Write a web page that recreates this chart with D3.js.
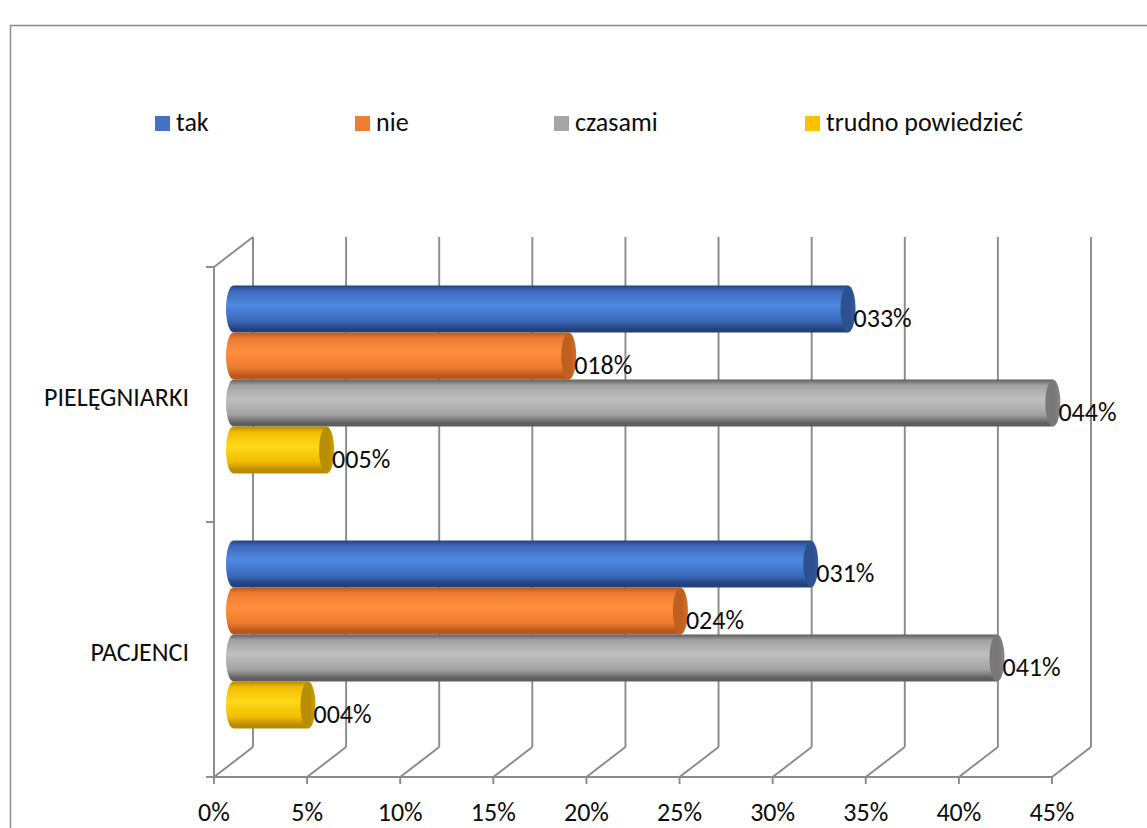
<!DOCTYPE html>
<html lang="pl">
<head>
<meta charset="utf-8">
<script src="https://cdn.jsdelivr.net/npm/d3@7"></script>
<style>
  html, body { margin: 0; padding: 0; background: #fff; }
  svg { display: block; }
  text { font-family: Carlito, Calibri, Lato, "Open Sans", sans-serif; fill: #0d0d0d; }
</style>
</head>
<body>
<svg id="chart" width="1147" height="828"></svg>
<script>
// Categories (rows) and answer series
const categories = ["PIELĘGNIARKI", "PACJENCI"];
const seriesNames = ["tak", "nie", "czasami", "trudno powiedzieć"];
const takValues = [0.33, 0.31];
const nieValues = [0.18, 0.24];
const czasamiValues = [0.44, 0.41];
const trudnoValues = [0.05, 0.04];
const tickValues = [0, 0.05, 0.10, 0.15, 0.20, 0.25, 0.30, 0.35, 0.40, 0.45];

const seriesValues = [takValues, nieValues, czasamiValues, trudnoValues];

// Colour sets per series: legend swatch, body gradient stops, end cap
const palette = [
  { swatch: "#4472c4", edge: "#23427c", mid: "#3d69bb", light: "#5089e2", cap: "#2c5090" },
  { swatch: "#ed7d31", edge: "#b8581c", mid: "#ec7b30", light: "#ff8f3e", cap: "#c0601f" },
  { swatch: "#a5a5a5", edge: "#5e5e5e", mid: "#a2a2a2", light: "#c0c0c0", cap: "#787878" },
  { swatch: "#ffc000", edge: "#b88a00", mid: "#f2bc00", light: "#ffd91a", cap: "#b68e00" }
];

const fontSize = 26;
const svg = d3.select("#chart");

// Outer chart frame
svg.append("rect")
  .attr("x", 10.5).attr("y", 25.5)
  .attr("width", 1200).attr("height", 900)
  .attr("fill", "none").attr("stroke", "#8c8c8c").attr("stroke-width", 1.5);

// Plot geometry (front plane) and depth offset of the 3D box
const x = d3.scaleLinear().domain([0, 0.45]).range([214, 1052]);
const y = d3.scaleBand().domain(categories).range([267, 777]);
const depth = { dx: 39, dy: -30 };
const mid = { dx: depth.dx / 2, dy: depth.dy / 2 };
const sub = d3.scaleBand().domain(seriesNames).range([0, y.bandwidth()])
  .paddingInner(0).paddingOuter(0.71);

const axisColor = "#8a8a8a";
const grid = svg.append("g").attr("stroke", axisColor).attr("stroke-width", 1.9).attr("fill", "none");
const yTop = y.range()[0], yBot = y.range()[1];

// Back wall vertical gridlines and floor diagonals
tickValues.forEach(v => {
  grid.append("line")
    .attr("x1", x(v) + depth.dx).attr("y1", yBot + depth.dy)
    .attr("x2", x(v) + depth.dx).attr("y2", yTop + depth.dy);
  grid.append("line")
    .attr("x1", x(v)).attr("y1", yBot)
    .attr("x2", x(v) + depth.dx).attr("y2", yBot + depth.dy);
  // tick mark under the floor edge
  grid.append("line")
    .attr("x1", x(v)).attr("y1", yBot)
    .attr("x2", x(v)).attr("y2", yBot + 7);
});
// Floor front edge
grid.append("line")
  .attr("x1", x(0)).attr("y1", yBot).attr("x2", x(0.45)).attr("y2", yBot);
// Left wall front edge and top diagonal
grid.append("line")
  .attr("x1", x(0)).attr("y1", yBot).attr("x2", x(0)).attr("y2", yTop);
grid.append("line")
  .attr("x1", x(0)).attr("y1", yTop).attr("x2", x(0) + depth.dx).attr("y2", yTop + depth.dy);
// Category ticks on the left wall
[yTop, ...categories.map(c => y(c) + y.bandwidth())].forEach(t => {
  grid.append("line").attr("x1", x(0) - 8).attr("y1", t).attr("x2", x(0)).attr("y2", t);
});

// Cylinder gradients
const defs = svg.append("defs");
palette.forEach((p, i) => {
  const g = defs.append("linearGradient").attr("id", "cyl" + i)
    .attr("x1", 0).attr("y1", 0).attr("x2", 0).attr("y2", 1);
  [[0, p.edge], [0.12, p.mid], [0.42, p.light], [0.75, p.mid], [0.93, p.edge], [1, p.edge]]
    .forEach(([o, c]) => g.append("stop").attr("offset", o).attr("stop-color", c));
  const cg = defs.append("linearGradient").attr("id", "cap" + i)
    .attr("x1", 0).attr("y1", 0).attr("x2", 1).attr("y2", 0);
  [[0, p.cap], [0.6, p.cap], [1, d3.color(p.cap).brighter(0.35)]]
    .forEach(([o, c]) => cg.append("stop").attr("offset", o).attr("stop-color", c));
});

// Cylindrical bars
const rx = 7.5;
const fmtLabel = v => String(Math.round(v * 100)).padStart(3, "0") + "%";
const bars = svg.append("g");
const labels = svg.append("g").attr("font-size", fontSize);

categories.forEach((cat, ci) => {
  seriesNames.forEach((s, si) => {
    const v = seriesValues[si][ci];
    const top = y(cat) + sub(s) + mid.dy;
    const h = sub.bandwidth();
    const ry = h / 2;
    const x0 = x(0) + mid.dx;
    const x1 = x(v) + mid.dx;
    const body = `M${x0},${top} L${x1},${top} L${x1},${top + h} L${x0},${top + h} ` +
      `A${rx},${ry} 0 0 1 ${x0},${top} Z`;
    bars.append("path").attr("d", body).attr("fill", `url(#cyl${si})`);
    bars.append("ellipse")
      .attr("cx", x1).attr("cy", top + ry).attr("rx", rx).attr("ry", ry)
      .attr("fill", `url(#cap${si})`);
    labels.append("text")
      .attr("x", x1 + rx - 2)
      .attr("y", top + ry + 9)
      .attr("dominant-baseline", "central")
      .text(fmtLabel(v));
  });
});

// Category labels
svg.append("g").attr("font-size", fontSize).attr("text-anchor", "end")
  .selectAll("text").data(categories).join("text")
  .attr("x", 189)
  .attr("y", d => y(d) + y.bandwidth() / 2 + 2)
  .attr("dominant-baseline", "central")
  .text(d => d);

// Value axis labels
const fmtTick = d3.format(".0%");
svg.append("g").attr("font-size", fontSize).attr("text-anchor", "middle")
  .selectAll("text").data(tickValues).join("text")
  .attr("x", d => x(d))
  .attr("y", 821)
  .text(d => fmtTick(d));

// Legend
const legendX = [155, 355, 554, 805];
const legend = svg.append("g").attr("font-size", fontSize);
seriesNames.forEach((s, i) => {
  legend.append("rect").attr("x", legendX[i]).attr("y", 116)
    .attr("width", 15).attr("height", 15).attr("fill", palette[i].swatch);
  legend.append("text").attr("x", legendX[i] + 21).attr("y", 131).text(s);
});
</script>
</body>
</html>
